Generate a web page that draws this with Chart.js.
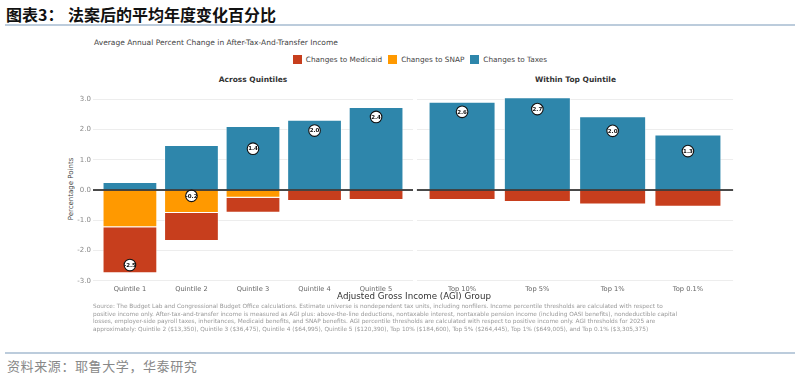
<!DOCTYPE html>
<html>
<head>
<meta charset="utf-8">
<script src="https://cdn.jsdelivr.net/npm/chart.js@4.4.1/dist/chart.umd.min.js"></script>
<style>
  html, body { margin:0; padding:0; background:#fff; }
  body { width:800px; height:378px; position:relative; overflow:hidden; font-family:"DejaVu Sans", sans-serif; }
  .abs { position:absolute; white-space:nowrap; }
  #hdr1, #hdr2 { top:4px; font-family:"Noto Sans CJK SC", sans-serif; font-weight:700; font-size:16px; line-height:20px; color:#111; }
  #hdr1 { left:6px; }
  #hdr2 { left:68px; }
  .rule { position:absolute; left:5px; width:790px; height:2px; background:#BCCCDC; }
  #sub { left:94px; top:38px; font-size:7.5px; color:#444; }
  #legend { left:0; width:840px; top:55px; display:flex; justify-content:center; align-items:center; font-size:7.3px; color:#444; }
  #legend .it { display:flex; align-items:center; margin:0 3px; }
  #legend .sw { width:9px; height:9px; margin-right:4px; }
  .ptitle { top:75px; font-size:7.5px; font-weight:700; color:#333; transform:translateX(-50%); }
  #ytitle { left:71px; top:189px; font-size:7px; color:#444; transform:translate(-50%,-50%) rotate(-90deg); }
  #xtitle { left:414px; top:291px; font-size:8.7px; color:#333; transform:translateX(-50%); }
  #src { left:93px; top:303px; font-size:5.8px; line-height:7.6px; color:#999; }
  #foot { left:7px; top:358px; font-family:"Noto Sans CJK SC", sans-serif; font-size:13px; line-height:16px; color:#888; letter-spacing:0.6px; }
  canvas { position:absolute; }
</style>
</head>
<body>
<div id="hdr1" class="abs">图表3：</div>
<div id="hdr2" class="abs">法案后的平均年度变化百分比</div>
<div class="rule" style="top:24px"></div>

<div id="sub" class="abs">Average Annual Percent Change in After-Tax-And-Transfer Income</div>
<div id="legend" class="abs"></div>
<div class="abs ptitle" style="left:253px">Across Quintiles</div>
<div class="abs ptitle" style="left:575.5px">Within Top Quintile</div>
<div id="ytitle" class="abs">Percentage Points</div>

<canvas id="left" width="420" height="206" style="left:0px;top:88px"></canvas>
<canvas id="right" width="330" height="206" style="left:410px;top:88px"></canvas>

<div id="xtitle" class="abs">Adjusted Gross Income (AGI) Group</div>
<div id="src" class="abs">Source: The Budget Lab and Congressional Budget Office calculations. Estimate universe is nondependent tax units, including nonfilers. Income percentile thresholds are calculated with respect to<br>positive income only. After-tax-and-transfer income is measured as AGI plus: above-the-line deductions, nontaxable interest, nontaxable pension income (including OASI benefits), nondeductible capital<br>losses, employer-side payroll taxes, inheritances, Medicaid benefits, and SNAP benefits. AGI percentile thresholds are calculated with respect to positive income only. AGI thresholds for 2025 are<br>approximately: Quintile 2 ($13,350), Quintile 3 ($36,475), Quintile 4 ($64,995), Quintile 5 ($120,390), Top 10% ($184,600), Top 5% ($264,445), Top 1% ($649,005), and Top 0.1% ($3,305,375)</div>

<div class="rule" style="top:352px"></div>
<div id="foot" class="abs">资料来源：耶鲁大学，华泰研究</div>

<script>
// ---------- data ----------
const quintileCats = ["Quintile 1", "Quintile 2", "Quintile 3", "Quintile 4", "Quintile 5"];
const quintileMedicaid = [-1.52, -0.92, -0.50, -0.34, -0.32];
const quintileSnap     = [-1.23, -0.76, -0.25, -0.02, -0.01];
const quintileTaxes    = [0.27, 1.49, 2.12, 2.33, 2.75];

const topCats = ["Top 10%", "Top 5%", "Top 1%", "Top 0.1%"];
const topMedicaid = [-0.33, -0.39, -0.48, -0.55];
const topSnap     = [0, 0, 0, 0];
const topTaxes    = [2.92, 3.07, 2.44, 1.84];

const yTickValues = [-3, -2, -1, 0, 1, 2, 3];

const seriesNames = ["Changes to Medicaid", "Changes to SNAP", "Changes to Taxes"];
const seriesColors = ["#C73E1D", "#FF9900", "#2E86AB"];

// ---------- legend ----------
const lg = document.getElementById('legend');
seriesNames.forEach((n, i) => {
  const it = document.createElement('div'); it.className = 'it';
  it.innerHTML = '<div class="sw" style="background:' + seriesColors[i] + '"></div><span>' + n + '</span>';
  lg.appendChild(it);
});

// ---------- plugins ----------
const zeroLine = {
  id: 'zeroLine',
  afterDatasetsDraw(chart) {
    const y = chart.scales.y.getPixelForValue(0);
    const a = chart.chartArea, ctx = chart.ctx;
    ctx.save();
    ctx.strokeStyle = '#111'; ctx.lineWidth = 1.5;
    ctx.beginPath(); ctx.moveTo(a.left, y); ctx.lineTo(a.right, y); ctx.stroke();
    ctx.restore();
  }
};
const netLabels = {
  id: 'netLabels',
  afterDraw(chart) {
    const idx = chart.data.datasets.findIndex(d => d.isNet);
    const meta = chart.getDatasetMeta(idx);
    const ctx = chart.ctx;
    ctx.save();
    ctx.font = 'bold 5.5px "DejaVu Sans"';
    ctx.fillStyle = '#111'; ctx.textAlign = 'center'; ctx.textBaseline = 'middle';
    meta.data.forEach((el, i) => {
      const v = chart.data.datasets[idx].data[i].y;
      ctx.fillText(v.toFixed(1), el.x, el.y + 0.3);
    });
    ctx.restore();
  }
};

function makeChart(id, cats, med, snap, tax, opts) {
  const toXY = arr => arr.map((v, i) => ({ x: i, y: v }));
  const net = cats.map((c, i) => ({ x: i, y: med[i] + snap[i] + tax[i] }));
  const barCommon = { type: 'bar', barPercentage: 0.89, categoryPercentage: 1.0, borderWidth: 1, borderColor: 'rgba(255,255,255,0.55)', order: 1 };
  return new Chart(document.getElementById(id), {
    data: {
      datasets: [
        Object.assign({ label: seriesNames[1], data: toXY(snap), backgroundColor: seriesColors[1] }, barCommon),
        Object.assign({ label: seriesNames[0], data: toXY(med), backgroundColor: seriesColors[0] }, barCommon),
        Object.assign({ label: seriesNames[2], data: toXY(tax), backgroundColor: seriesColors[2] }, barCommon),
        { type: 'scatter', isNet: true, stack: 'net', data: net, order: -1,
          pointRadius: 5.8, pointBackgroundColor: '#fff', pointBorderColor: '#111', pointBorderWidth: 1.1 }
      ]
    },
    options: {
      responsive: false, animation: false, devicePixelRatio: 1,
      layout: { padding: { left: 0, right: opts.padRight, top: 4.7, bottom: 0 } },
      plugins: { legend: { display: false }, tooltip: { enabled: false } },
      scales: {
        x: {
          type: 'linear', offset: false, min: -0.6, max: cats.length - 0.4, stacked: true,
          grid: { display: false, drawTicks: false }, border: { display: false },
          afterBuildTicks: s => { s.ticks = cats.map((c, i) => ({ value: i })); },
          afterFit: s => { s.height = 11.7; },
          ticks: { autoSkip: false, maxRotation: 0, padding: 3, color: '#666',
                   font: { family: 'DejaVu Sans', size: 6.7 },
                   callback: v => cats[Math.round(v)] }
        },
        y: {
          min: -3.05, max: 3.15, stacked: true,
          afterBuildTicks: s => { s.ticks = yTickValues.map(v => ({ value: v })); },
          afterFit: s => { s.width = opts.yWidth; },
          grid: { color: '#EDEDED', lineWidth: 1, drawTicks: false },
          border: { display: false },
          ticks: { display: opts.showY, padding: 2, color: '#888',
                   font: { family: 'DejaVu Sans', size: 7 },
                   callback: v => v.toFixed(1) }
        }
      }
    },
    plugins: [zeroLine, netLabels]
  });
}

makeChart('left', quintileCats, quintileMedicaid, quintileSnap, quintileTaxes, { padRight: 7, yWidth: 93, showY: true });
makeChart('right', topCats, topMedicaid, topSnap, topTaxes, { padRight: 5, yWidth: 6, showY: false });
</script>
</body>
</html>
